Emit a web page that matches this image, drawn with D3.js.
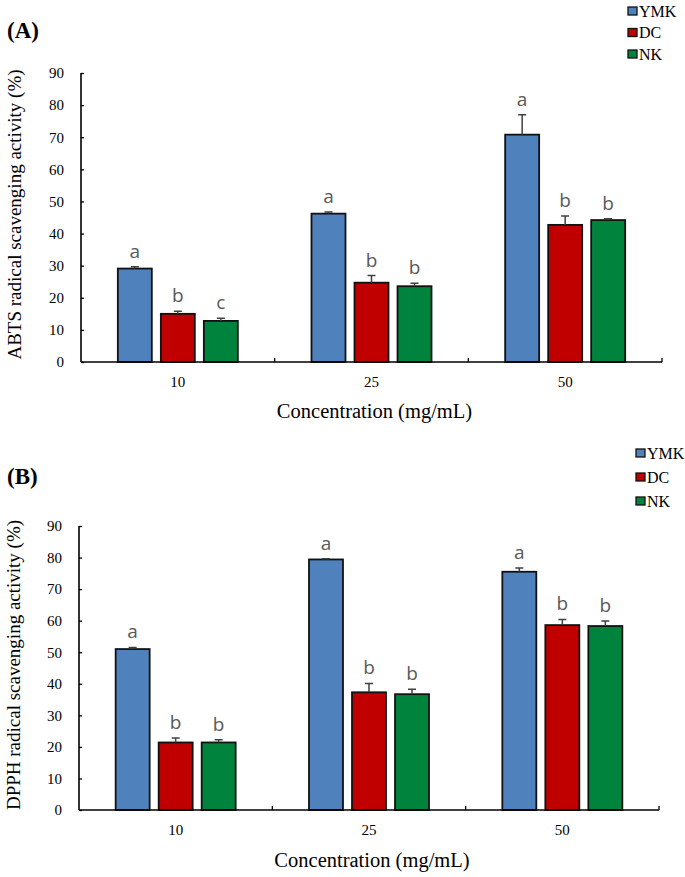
<!DOCTYPE html>
<html>
<head>
<meta charset="utf-8">
<script src="https://cdn.jsdelivr.net/npm/d3@7"></script>
<style>
  html, body { margin: 0; padding: 0; background: #fff; }
  svg { display: block; }
</style>
</head>
<body>
<svg id="chart" width="685" height="877"></svg>
<script>
// ---------- data ----------
const categories = ["10", "25", "50"];
const series = ["YMK", "DC", "NK"];
const colors = ["#4F81BD", "#C00000", "#00843D"];
const yTicks = [0, 10, 20, 30, 40, 50, 60, 70, 80, 90];

// (A) ABTS
const abtsYMK = [29.1, 46.2, 70.8];
const abtsDC  = [15.0, 24.7, 42.7];
const abtsNK  = [12.8, 23.6, 44.2];
const abtsErrYMK = [0.6, 0.5, 6.2];
const abtsErrDC  = [0.8, 2.2, 2.8];
const abtsErrNK  = [0.8, 0.9, 0.4];
const abtsLetYMK = ["a", "a", "a"];
const abtsLetDC  = ["b", "b", "b"];
const abtsLetNK  = ["c", "b", "b"];

// (B) DPPH
const dpphYMK = [51.0, 79.4, 75.5];
const dpphDC  = [21.4, 37.3, 58.6];
const dpphNK  = [21.4, 36.7, 58.3];
const dpphErrYMK = [0.5, 0.2, 1.2];
const dpphErrDC  = [1.4, 2.8, 1.8];
const dpphErrNK  = [0.9, 1.6, 1.6];
const dpphLetYMK = ["a", "a", "a"];
const dpphLetDC  = ["b", "b", "b"];
const dpphLetNK  = ["b", "b", "b"];

const xTitle = "Concentration (mg/mL)";

function buildRows(vals, errs, lets) {
  const rows = [];
  categories.forEach((c, ci) => {
    series.forEach((s, si) => {
      rows.push({cat: c, ser: s, si, value: vals[si][ci], err: errs[si][ci], letter: lets[si][ci]});
    });
  });
  return rows;
}

const panels = [
  {
    tag: "(A)", tagY: 38,
    yTitle: "ABTS radical scavenging activity (%)",
    rows: buildRows([abtsYMK, abtsDC, abtsNK], [abtsErrYMK, abtsErrDC, abtsErrNK], [abtsLetYMK, abtsLetDC, abtsLetNK]),
    x0: 81, x1: 662, yBottom: 362, yTop: 73,
    catY: 387, titleY: 418, yTitleX: 21,
    legX: 628, legY: 11, legStep: 21.5, legSize: 9
  },
  {
    tag: "(B)", tagY: 484,
    yTitle: "DPPH radical scavenging activity (%)",
    rows: buildRows([dpphYMK, dpphDC, dpphNK], [dpphErrYMK, dpphErrDC, dpphErrNK], [dpphLetYMK, dpphLetDC, dpphLetNK]),
    x0: 79, x1: 659, yBottom: 810, yTop: 526,
    catY: 835, titleY: 867, yTitleX: 20,
    legX: 636, legY: 453, legStep: 24, legSize: 9
  }
];

const svg = d3.select("#chart");
const serif = "'Liberation Serif', 'Times New Roman', serif";
const sans = "'Open Sans', 'Liberation Sans', sans-serif";

panels.forEach(p => {
  const g = svg.append("g");
  const x = d3.scaleBand().domain(categories).range([p.x0, p.x1]).padding(0);
  const groupW = 120;
  const xs = d3.scaleBand().domain(series)
    .range([(x.bandwidth() - groupW) / 2, (x.bandwidth() + groupW) / 2])
    .paddingInner(0.21).paddingOuter(0);
  const y = d3.scaleLinear().domain([0, 90]).range([p.yBottom, p.yTop]);

  // panel tag
  g.append("text").attr("x", 7).attr("y", p.tagY)
    .attr("font-family", serif).attr("font-weight", "bold").attr("font-size", 23)
    .text(p.tag);

  // y axis
  const yAxis = d3.axisLeft(y).tickValues(yTicks).tickSize(-3).tickPadding(17);
  const ya = g.append("g").attr("transform", `translate(${p.x0},0)`).call(yAxis);
  ya.select(".domain").attr("d", `M0,${p.yTop}H0V${p.yBottom}`).attr("stroke", "#000").attr("stroke-width", 1.6);
  ya.selectAll(".tick line").attr("stroke", "#000").attr("stroke-width", 1.3);
  ya.selectAll(".tick text").attr("font-family", serif).attr("font-size", 15).attr("fill", "#000");

  // bars
  const grp = g.selectAll(".grp").data(categories).join("g")
    .attr("transform", d => `translate(${x(d)},0)`);
  grp.selectAll("rect").data(c => p.rows.filter(r => r.cat === c)).join("rect")
    .attr("x", d => xs(d.ser)).attr("width", xs.bandwidth())
    .attr("y", d => y(d.value)).attr("height", d => y(0) - y(d.value))
    .attr("fill", d => colors[d.si]).attr("stroke", "#111").attr("stroke-width", 1.8);

  // error bars
  grp.selectAll(".err").data(c => p.rows.filter(r => r.cat === c)).join("path")
    .attr("class", "err")
    .attr("d", d => {
      const cx = xs(d.ser) + xs.bandwidth() / 2;
      const t = y(d.value + d.err), b = y(d.value);
      return `M${cx},${b}V${t}M${cx - 4},${t}H${cx + 4}`;
    })
    .attr("stroke", "#404040").attr("stroke-width", 1.5).attr("fill", "none");

  // significance letters
  grp.selectAll(".let").data(c => p.rows.filter(r => r.cat === c)).join("text")
    .attr("class", "let")
    .attr("x", d => xs(d.ser) + xs.bandwidth() / 2)
    .attr("y", d => y(d.value + d.err) - 9)
    .attr("text-anchor", "middle")
    .attr("font-family", sans).attr("font-size", 19).attr("fill", "#595959")
    .text(d => d.letter);

  // x axis
  const xAxis = d3.axisBottom(x).tickSize(0).tickFormat(() => "");
  const xa = g.append("g").attr("transform", `translate(0,${p.yBottom})`).call(xAxis);
  xa.select(".domain").attr("d", `M${p.x0},0H${p.x1}`).attr("stroke", "#000").attr("stroke-width", 1.6);
  // boundary ticks (inward)
  const bounds = categories.map(c => x(c) + x.bandwidth());
  xa.selectAll(".bnd").data(bounds).join("line").attr("class", "bnd")
    .attr("x1", d => d).attr("x2", d => d).attr("y1", 0).attr("y2", -4)
    .attr("stroke", "#000").attr("stroke-width", 1.3);

  // category labels
  g.selectAll(".cat").data(categories).join("text").attr("class", "cat")
    .attr("x", d => x(d) + x.bandwidth() / 2).attr("y", p.catY)
    .attr("text-anchor", "middle").attr("font-family", serif).attr("font-size", 15)
    .text(d => d);

  // x title
  g.append("text").attr("x", (p.x0 + p.x1) / 2 + 3).attr("y", p.titleY)
    .attr("text-anchor", "middle").attr("font-family", serif).attr("font-size", 20.5)
    .text(xTitle);

  // y title
  g.append("text")
    .attr("transform", `translate(${p.yTitleX},${(p.yTop + p.yBottom) / 2 - 3}) rotate(-90)`)
    .attr("text-anchor", "middle").attr("font-family", serif).attr("font-size", 19)
    .text(p.yTitle);

  // legend
  const leg = g.selectAll(".leg").data(series).join("g").attr("class", "leg")
    .attr("transform", (d, i) => `translate(${p.legX},${p.legY + i * p.legStep})`);
  leg.append("rect").attr("x", 0).attr("y", -p.legSize / 2 + 0.5)
    .attr("width", p.legSize).attr("height", p.legSize - 1)
    .attr("fill", (d, i) => colors[i]).attr("stroke", "#111").attr("stroke-width", 1.3);
  leg.append("text").attr("x", p.legSize + 2).attr("y", 5.5)
    .attr("font-family", serif).attr("font-size", 16).text(d => d);
});
</script>
</body>
</html>
